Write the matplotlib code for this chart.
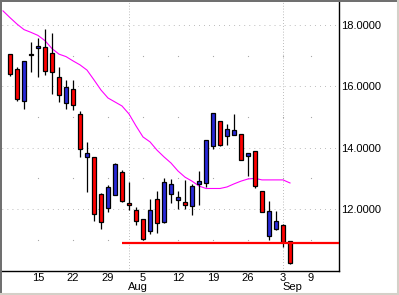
import matplotlib
matplotlib.use("Agg")
import matplotlib.pyplot as plt
import pandas as pd
from matplotlib.lines import Line2D

plt.rcParams['font.family'] = ['Liberation Sans', 'DejaVu Sans']

# trading calendar, Labor Day (2 Sep) is closed
calendar = [d for d in pd.bdate_range("2002-07-08", "2002-09-13") if d != pd.Timestamp("2002-09-02")]
pos = {d.strftime("%Y-%m-%d"): i for i, d in enumerate(calendar)}

candle_days = [d.strftime("%Y-%m-%d") for d in calendar[1:42]]  # Jul 9 .. Sep 4

opens = [17.05, 16.56, 15.53, 17.06, 17.24, 17.27, 17.10, 16.31, 15.47, 15.90,
         15.10, 13.69, 13.69, 12.48, 12.02, 12.45, 13.21, 12.19, 11.96, 11.66,
         11.27, 12.32, 11.59, 12.48, 12.29, 12.22, 12.09, 12.81, 12.84, 14.04,
         14.86, 14.37, 14.40, 14.44, 13.72, 13.88, 12.58, 11.13, 11.36, 11.47,
         10.95]
highs = [17.05, 16.64, 16.82, 17.45, 17.58, 17.86, 17.73, 16.64, 16.21, 16.21,
         15.19, 14.19, 13.69, 12.53, 12.78, 13.51, 13.27, 12.88, 12.06, 11.68,
         12.32, 12.58, 13.01, 12.97, 12.60, 12.95, 12.82, 13.25, 14.24, 15.12,
         14.88, 14.77, 15.10, 14.44, 13.82, 13.88, 12.58, 12.26, 11.94, 11.50,
         10.95]
lows = [16.34, 15.53, 15.27, 16.47, 16.30, 16.38, 15.75, 15.49, 15.25, 15.23,
        13.71, 12.55, 11.62, 11.36, 11.91, 12.45, 12.22, 11.97, 11.47, 10.98,
        11.19, 11.21, 11.55, 12.21, 12.01, 12.00, 11.81, 12.14, 12.71, 13.95,
        14.07, 14.10, 14.40, 13.59, 13.08, 12.69, 11.89, 10.99, 11.32, 10.77,
        10.21]
closes = [16.39, 15.60, 16.82, 17.02, 17.32, 16.49, 16.46, 15.71, 15.97, 15.38,
          13.95, 13.82, 11.83, 11.59, 12.71, 13.47, 12.27, 12.12, 11.62, 11.03,
          11.97, 11.53, 12.88, 12.82, 12.39, 12.14, 12.75, 12.90, 14.24, 15.12,
          14.08, 14.60, 14.57, 13.59, 13.82, 12.74, 11.89, 11.94, 11.61, 10.92,
          10.25]

# moving average, Jul 8 .. Sep 4
ma_values = [18.46, 18.24, 18.03, 17.85, 17.76, 17.66, 17.49, 17.23, 17.05, 16.97,
             16.83, 16.70, 16.53, 16.21, 15.88, 15.62, 15.49, 15.36, 15.10, 14.71,
             14.35, 14.19, 13.92, 13.70, 13.50, 13.24, 13.04, 12.91, 12.75, 12.67,
             12.67, 12.67, 12.72, 12.82, 12.91, 12.98, 13.00, 12.95, 12.95, 12.95,
             12.95, 12.85]

support_level = 10.90
support_start = "2002-07-31"

week_days = ["2002-07-15", "2002-07-22", "2002-07-29", "2002-08-05", "2002-08-12",
             "2002-08-19", "2002-08-26", "2002-09-03", "2002-09-09"]
week_labels = ["15", "22", "29", "5", "12", "19", "26", "3", "9"]
month_days = ["2002-08-01", "2002-09-03"]
month_labels = ["Aug", "Sep"]

y_major = [12, 14, 16, 18]
y_minor = [11, 13, 15, 17]

fig = plt.figure(figsize=(3.99, 2.95), dpi=100)
ax = fig.add_axes([2 / 399, 24 / 295, 337 / 399, 269 / 295])

xs = [pos[d] for d in candle_days]

# grid
grid_col = '#a8a8a8'
for v in y_major:
    ax.axhline(v, color=grid_col, lw=0.72, dashes=(0.72, 4.32), zorder=0)
for d in month_days:
    ax.axvline(pos[d], color=grid_col, lw=0.72, dashes=(0.72, 2.16), zorder=0)
wx = [pos[d] for d in week_days]
for v in y_minor:
    ax.plot(wx, [v] * len(wx), ls='none', marker='s', ms=0.8, mew=0, color=grid_col, zorder=0)

# candles
ax.vlines(xs, lows, highs, color='black', lw=0.9, zorder=2)
colors = ['#2828d8' if c > o else '#ff0000' for o, c in zip(opens, closes)]
heights = [c - o for o, c in zip(opens, closes)]
ax.bar(xs, heights, bottom=opens, width=0.62, color=colors, edgecolor='black',
       linewidth=0.9, zorder=3)

# moving average
ax.plot(range(len(ma_values)), ma_values, color='#ff00ff', lw=0.8, zorder=1)

# support line
ax.hlines(support_level, pos[support_start], 48.5, color='#ff0000', lw=1.6, zorder=4)

ax.set_xlim(-0.143, 48.0)
ax.set_ylim(9.98, 18.75)

ax.yaxis.tick_right()
ax.set_yticks(y_major)
ax.set_yticklabels(['%.4f' % v for v in y_major])
ax.set_xticks(wx)
ax.set_xticklabels(week_labels)
ax.tick_params(axis='both', length=0, labelsize=8, colors='black')
ax.tick_params(axis='y', pad=1.5)
ax.tick_params(axis='x', pad=1.5)

for d, lab in zip(month_days, month_labels):
    ax.text(pos[d] - 0.1, -0.06, lab, transform=ax.get_xaxis_transform(),
            ha='left', va='center', fontsize=8)

ax.spines['left'].set_visible(False)
ax.spines['top'].set_visible(False)
ax.spines['right'].set_linewidth(1.0)
ax.spines['bottom'].set_linewidth(1.0)

# window frame
fig.add_artist(Line2D([0, 1], [1 - 1 / 295, 1 - 1 / 295], color='#707070', lw=1.44, transform=fig.transFigure))
fig.add_artist(Line2D([1 / 399, 1 / 399], [0, 1], color='#707070', lw=1.44, transform=fig.transFigure))
fig.add_artist(Line2D([0, 1], [1.5 / 295, 1.5 / 295], color='#d4d0c8', lw=2.2, transform=fig.transFigure))
fig.add_artist(Line2D([1 - 1.5 / 399, 1 - 1.5 / 399], [0, 1], color='#d4d0c8', lw=2.2, transform=fig.transFigure))

fig.savefig('out.png', dpi=100)
